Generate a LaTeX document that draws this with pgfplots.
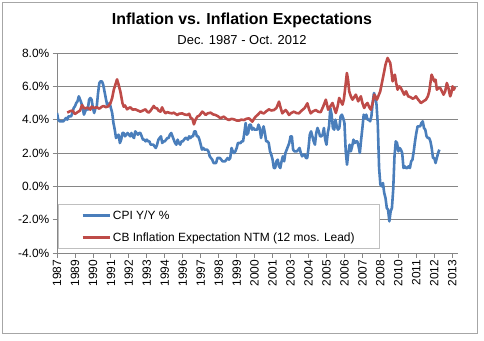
\documentclass[border=0pt]{standalone}
\usepackage{fontspec}
\setmainfont{Liberation Sans}
\usepackage{pgfplots}
\usepackage{pgfplotstable}
\pgfplotsset{compat=1.18}
\definecolor{cpiblue}{HTML}{4A7EBB}
\definecolor{cbred}{HTML}{BE4B48}
\definecolor{gridgray}{HTML}{868686}

% month index: 0 = Dec 1987
\pgfplotstableread{
x y
0 4.4
1 4.0
2 3.9
3 3.9
4 3.9
5 3.9
6 4.0
7 4.1
8 4.0
9 4.2
10 4.2
11 4.2
12 4.4
13 4.7
14 4.8
15 5.0
16 5.1
17 5.4
18 5.2
19 5.0
20 4.7
21 4.3
22 4.5
23 4.7
24 4.6
25 5.2
26 5.3
27 5.2
28 4.7
29 4.4
30 4.7
31 4.8
32 5.6
33 6.2
34 6.3
35 6.3
36 6.1
37 5.7
38 5.3
39 4.9
40 4.9
41 5.0
42 4.7
43 4.4
44 3.8
45 3.4
46 2.9
47 3.0
48 3.1
49 2.6
50 2.8
51 3.2
52 3.2
53 3.0
54 3.1
55 3.2
56 3.1
57 3.0
58 3.2
59 3.0
60 2.9
61 3.3
62 3.2
63 3.1
64 3.2
65 3.2
66 3.0
67 2.8
68 2.8
69 2.7
70 2.8
71 2.7
72 2.7
73 2.5
74 2.5
75 2.5
76 2.4
77 2.3
78 2.5
79 2.8
80 2.9
81 3.0
82 2.6
83 2.7
84 2.7
85 2.8
86 2.9
87 2.9
88 3.1
89 3.2
90 3.0
91 2.8
92 2.6
93 2.5
94 2.8
95 2.6
96 2.5
97 2.7
98 2.7
99 2.8
100 2.9
101 2.9
102 2.8
103 3.0
104 2.9
105 3.0
106 3.0
107 3.3
108 3.3
109 3.0
110 3.0
111 2.8
112 2.5
113 2.2
114 2.3
115 2.2
116 2.2
117 2.2
118 2.1
119 1.8
120 1.7
121 1.6
122 1.4
123 1.4
124 1.4
125 1.7
126 1.7
127 1.7
128 1.6
129 1.5
130 1.5
131 1.5
132 1.6
133 1.7
134 1.6
135 1.7
136 2.3
137 2.1
138 2.0
139 2.1
140 2.3
141 2.6
142 2.6
143 2.6
144 2.7
145 2.7
146 3.2
147 3.8
148 3.1
149 3.2
150 3.7
151 3.7
152 3.4
153 3.5
154 3.4
155 3.4
156 3.4
157 3.7
158 3.5
159 2.9
160 3.3
161 3.6
162 3.2
163 2.7
164 2.7
165 2.6
166 2.1
167 1.9
168 1.6
169 1.1
170 1.1
171 1.5
172 1.6
173 1.2
174 1.1
175 1.5
176 1.8
177 1.5
178 2.0
179 2.2
180 2.4
181 2.6
182 3.0
183 3.0
184 2.2
185 2.1
186 2.1
187 2.1
188 2.2
189 2.3
190 2.0
191 1.8
192 1.9
193 1.9
194 1.7
195 1.7
196 2.3
197 3.1
198 3.3
199 3.0
200 2.7
201 2.5
202 3.2
203 3.5
204 3.3
205 3.0
206 3.0
207 3.1
208 3.5
209 2.8
210 2.5
211 3.2
212 3.6
213 4.7
214 4.3
215 3.5
216 3.4
217 4.0
218 3.6
219 3.4
220 3.5
221 4.2
222 4.3
223 4.1
224 3.8
225 2.1
226 1.3
227 2.0
228 2.5
229 2.1
230 2.4
231 2.8
232 2.6
233 2.7
234 2.7
235 2.4
236 2.0
237 2.8
238 3.5
239 4.3
240 4.1
241 4.3
242 4.0
243 4.0
244 3.9
245 4.2
246 5.0
247 5.6
248 5.4
249 4.9
250 3.7
251 1.1
252 0.1
253 0.0
254 0.2
255 -0.4
256 -0.7
257 -1.3
258 -1.4
259 -2.1
260 -1.5
261 -1.3
262 -0.2
263 1.8
264 2.7
265 2.6
266 2.1
267 2.3
268 2.2
269 2.0
270 1.1
271 1.2
272 1.1
273 1.1
274 1.2
275 1.1
276 1.5
277 1.6
278 2.1
279 2.7
280 3.2
281 3.6
282 3.6
283 3.6
284 3.8
285 3.9
286 3.5
287 3.4
288 3.0
289 2.9
290 2.9
291 2.7
292 2.3
293 1.7
294 1.7
295 1.4
296 1.7
297 2.0
298 2.2
}\cpitable

\pgfplotstableread{
x y
8 4.42
10 4.50
12 4.55
14 4.34
16 4.45
18 4.55
19.5 4.88
21 4.70
22 4.68
24 4.72
26 4.60
27 4.78
29 4.70
31 4.74
33 4.66
35 4.78
36.5 4.82
38 4.75
40 4.80
41.6 4.98
43 5.30
44.2 5.78
46.8 6.42
48 6.10
49.4 5.68
51 5.00
52 4.78
53 4.85
54.6 4.62
56 4.70
57.2 4.74
59 4.60
61 4.62
63 4.55
65 4.48
67 4.55
69 4.62
70 4.50
71.5 4.42
73 4.55
75.4 4.82
76.5 4.70
78 4.68
79 4.55
80.6 4.48
81.9 4.74
83 4.55
84.5 4.38
86 4.45
88 4.40
89.7 4.38
91 4.42
93.7 4.28
95 4.35
97.6 4.38
99 4.32
101.5 4.28
103 4.35
104.1 4.12
105.5 4.05
106.7 3.72
108 4.00
109.3 4.18
111 4.25
113.2 4.48
114.5 4.40
115.8 4.28
117.5 4.38
119.7 4.42
121.5 4.32
123.6 4.28
125.5 4.20
127.5 4.08
129 4.15
130.1 4.18
132 4.05
134 3.98
136 4.05
137.9 4.02
140 3.95
141.8 3.94
143.5 4.00
145.7 3.98
147.5 4.05
149.6 4.08
151 3.98
152.2 3.88
153.5 4.05
154.8 4.18
156.5 4.30
158.7 4.48
160 4.40
161.3 4.38
163 4.50
165.2 4.62
167 4.55
169.1 4.58
171 4.70
173 5.08
174.3 4.70
175.6 4.38
177 4.50
178.2 4.58
179.5 4.45
180.8 4.28
182.5 4.40
184.7 4.48
186.5 4.40
188.6 4.38
190 4.50
191.2 4.58
193 4.70
195.1 4.98
196.5 4.60
197.7 4.38
199.5 4.50
201.6 4.58
203.5 4.48
205.5 4.45
207.5 4.80
209.5 5.20
211.3 4.60
213 4.80
214.7 5.00
216 4.70
217.3 4.40
218.7 4.80
219.9 5.30
221.2 5.10
222.5 4.90
223.5 5.20
224.3 5.70
225.9 6.80
226.8 6.40
227.7 5.70
229 5.40
230.3 5.20
232.9 5.50
234.7 5.10
236.8 5.40
238 5.00
239.4 4.70
240.7 4.90
242 5.00
243.3 4.75
244.6 4.60
246 5.00
247.2 5.50
249.3 5.20
250.6 5.45
251.9 5.70
253.2 6.20
254.5 6.70
256 7.30
257.6 7.70
259.7 7.40
260.6 6.90
261.5 6.30
263.3 6.70
264.3 6.20
265.4 5.80
266.7 6.00
268 5.90
269.3 5.70
270.6 5.50
272 5.70
273.7 5.40
275.5 5.35
277.1 5.26
278.5 5.30
279.7 5.40
281.5 5.20
283.6 5.00
285.5 5.10
287.5 5.20
289 5.40
290.1 5.70
291.9 6.70
293 6.50
294 6.30
295 6.40
296 5.80
297.3 5.90
298.6 5.90
300 5.70
301.2 5.50
302.5 5.70
303.8 6.20
305 5.90
306.4 5.40
307.3 5.60
308.2 6.00
309.2 5.80
310.3 5.96
}\cbtable

\begin{document}
\begin{tikzpicture}[x=1bp,y=1bp]
\useasboundingbox (0,0) rectangle (484,340);
\draw[gray!70, line width=0.8bp] (2.5,6.5) rectangle (477.5,337.5);
\node[font=\fontsize{16}{19}\selectfont\bfseries] at (242,320) {Inflation vs. Inflation Expectations};
\node[font=\fontsize{13}{15}\selectfont] at (242,300) {Dec. 1987 - Oct. 2012};
\begin{axis}[
  at={(57bp,87bp)}, anchor=south west,
  scale only axis, width=401bp, height=200bp,
  xmin=0, xmax=312.5, ymin=-4, ymax=8,
  axis x line*=bottom, axis y line*=left,
  axis line style={gridgray, line width=0.8bp},
  tick style={gridgray, line width=0.8bp},
  tick align=outside, major tick length=4.5bp,
  ymajorgrids, grid style={gridgray, line width=0.8bp},
  ytick={-4,-2,0,2,4,6,8},
  yticklabels={-4.0\%,-2.0\%,0.0\%,2.0\%,4.0\%,6.0\%,8.0\%},
  xtick={0,14,...,308},
  xticklabels={1987,1989,1990,1991,1992,1993,1994,1996,1997,1998,1999,2000,2001,2003,2004,2005,2006,2007,2008,2010,2011,2012,2013},
  x tick label style={rotate=90, anchor=east, inner sep=2bp, font=\fontsize{12}{12}\selectfont},
  y tick label style={inner sep=3bp, font=\fontsize{12}{12}\selectfont},
  legend cell align=left,
  legend image code/.code={\draw[#1] (0bp,0bp) -- (27bp,0bp);},
  legend style={at={(0.0025,0.245)}, anchor=north west, draw=gray!50, line width=0.8bp, fill=white,
    font=\fontsize{12}{14}\selectfont, inner xsep=23bp, inner ysep=4bp, row sep=8bp},
]
\addplot[cpiblue, line width=2.6bp, line join=round] table[x=x,y=y] {\cpitable};
\addlegendentry{CPI Y/Y \%}
\addplot[cbred, line width=2.6bp, line join=round] table[x=x,y=y] {\cbtable};
\addlegendentry{CB Inflation Expectation NTM (12 mos. Lead)}
\end{axis}
\end{tikzpicture}
\end{document}
